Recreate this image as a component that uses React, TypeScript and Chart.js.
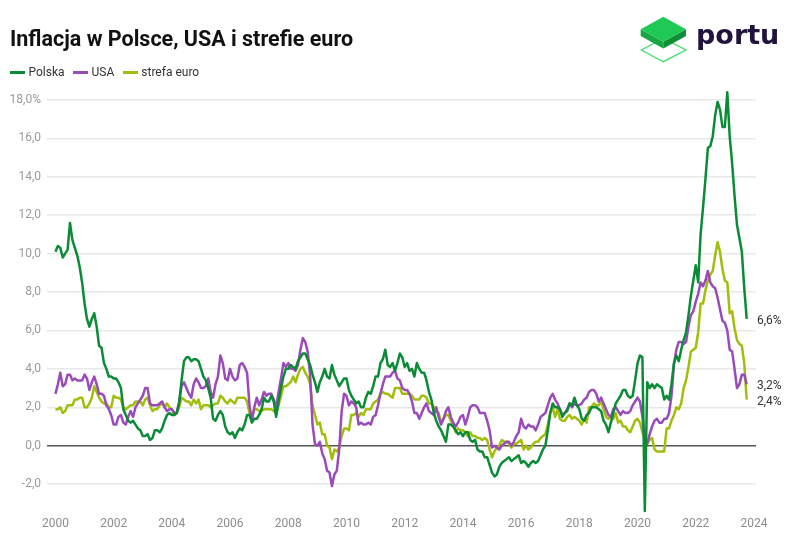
import React, { useEffect, useRef } from "react";
import { Chart, registerables } from "chart.js";

Chart.register(...registerables);

// Monthly y/y CPI, January 2000 - October 2023
const startYear = 2000;

const polska = [
  10.1, 10.4, 10.3, 9.8, 10.0, 10.2, 11.6, 10.7, 10.3, 9.9, 9.3, 8.5,
  7.4, 6.6, 6.2, 6.6, 6.9, 6.2, 5.2, 5.1, 4.3, 4.0, 3.6, 3.6,
  3.5, 3.5, 3.3, 3.0, 1.9, 1.6, 1.3, 1.2, 1.3, 1.1, 0.9, 0.8,
  0.5, 0.5, 0.6, 0.3, 0.4, 0.8, 0.8, 0.7, 0.9, 1.3, 1.6, 1.7,
  1.6, 1.6, 1.7, 2.2, 3.4, 4.4, 4.6, 4.6, 4.4, 4.5, 4.5, 4.4,
  4.0, 3.6, 3.4, 3.0, 2.5, 1.4, 1.3, 1.6, 1.8, 1.6, 1.0, 0.7,
  0.6, 0.7, 0.4, 0.7, 0.9, 0.8, 1.1, 1.6, 1.6, 1.2, 1.4, 1.4,
  1.6, 1.9, 2.5, 2.3, 2.3, 2.6, 2.3, 1.5, 2.3, 3.0, 3.6, 4.0,
  4.0, 4.2, 4.1, 4.0, 4.4, 4.6, 4.8, 4.8, 4.5, 4.2, 3.7, 3.3,
  2.8, 3.3, 3.6, 4.0, 3.6, 3.5, 4.2, 3.7, 3.4, 3.1, 3.3, 3.5,
  3.5, 2.9, 2.6, 2.4, 2.2, 2.3, 2.0, 2.0, 2.5, 2.8, 2.7, 3.1,
  3.6, 3.6, 4.3, 4.5, 5.0, 4.2, 4.1, 4.3, 3.9, 4.3, 4.8, 4.6,
  4.1, 4.3, 3.9, 4.0, 3.6, 4.3, 4.0, 3.8, 3.8, 3.4, 2.8, 2.4,
  1.7, 1.3, 1.0, 0.8, 0.5, 0.2, 1.1, 1.1, 1.0, 0.8, 0.6, 0.7,
  0.5, 0.7, 0.7, 0.3, 0.2, 0.3, -0.2, -0.3, -0.3, -0.6, -0.6, -1.0,
  -1.4, -1.6, -1.5, -1.1, -0.9, -0.8, -0.7, -0.6, -0.8, -0.7, -0.6, -0.5,
  -0.9, -0.8, -0.9, -1.1, -0.9, -0.8, -0.9, -0.8, -0.5, -0.2, 0.0, 0.8,
  1.7, 2.2, 2.0, 2.0, 1.9, 1.5, 1.7, 1.8, 2.2, 2.1, 2.5, 2.1,
  1.9, 1.4, 1.3, 1.6, 1.7, 2.0, 2.0, 2.0, 1.9, 1.8, 1.3, 1.1,
  0.7, 1.2, 1.7, 2.2, 2.4, 2.6, 2.9, 2.9, 2.6, 2.5, 2.6, 3.4,
  4.3, 4.7, 4.6, -3.4, 3.3, 3.0, 3.2, 3.0, 3.2, 3.1, 3.0, 2.4,
  2.6, 2.4, 3.2, 4.3, 4.7, 4.4, 5.0, 5.5, 5.9, 6.8, 7.8, 8.6,
  9.4, 8.5, 11.0, 12.4, 13.9, 15.5, 15.6, 16.1, 17.2, 17.9, 17.5, 16.6,
  16.6, 18.4, 16.1, 14.7, 13.0, 11.5, 10.8, 10.1, 8.2, 6.6,
];

const usa = [
  2.7, 3.2, 3.8, 3.1, 3.2, 3.7, 3.7, 3.4, 3.5, 3.4, 3.4, 3.4,
  3.7, 3.5, 2.9, 3.3, 3.6, 3.2, 2.7, 2.7, 2.6, 2.1, 1.9, 1.6,
  1.1, 1.1, 1.5, 1.6, 1.2, 1.1, 1.5, 1.8, 1.5, 2.0, 2.2, 2.4,
  2.6, 3.0, 3.0, 2.2, 2.1, 2.1, 2.1, 2.2, 2.3, 2.0, 1.8, 1.9,
  1.9, 1.7, 1.7, 2.3, 3.1, 3.3, 3.0, 2.7, 2.5, 3.2, 3.5, 3.3,
  3.0, 3.0, 3.1, 3.5, 2.8, 2.5, 3.2, 3.6, 4.7, 4.3, 3.5, 3.4,
  4.0, 3.6, 3.4, 3.5, 4.2, 4.3, 4.1, 3.8, 2.1, 1.3, 2.0, 2.5,
  2.1, 2.4, 2.8, 2.6, 2.7, 2.7, 2.4, 2.0, 2.8, 3.5, 4.3, 4.1,
  4.3, 4.0, 4.0, 3.9, 4.2, 5.0, 5.6, 5.4, 4.9, 3.7, 1.1, 0.1,
  0.0, 0.2, -0.4, -0.7, -1.3, -1.4, -2.1, -1.5, -1.3, -0.2, 1.8, 2.7,
  2.6, 2.1, 2.3, 2.2, 2.0, 1.1, 1.2, 1.1, 1.1, 1.2, 1.1, 1.5,
  1.6, 2.1, 2.7, 3.2, 3.6, 3.6, 3.6, 3.8, 3.9, 3.5, 3.4, 3.0,
  2.9, 2.9, 2.7, 2.3, 1.7, 1.7, 1.4, 1.7, 2.0, 2.2, 1.8, 1.7,
  1.6, 2.0, 1.5, 1.1, 1.4, 1.8, 2.0, 1.5, 1.2, 1.0, 1.2, 1.5,
  1.6, 1.1, 1.5, 2.0, 2.1, 2.1, 2.0, 1.7, 1.7, 1.7, 1.3, 0.8,
  -0.1, 0.0, -0.1, -0.2, 0.0, 0.1, 0.2, 0.2, 0.0, 0.2, 0.5, 0.7,
  1.4, 1.0, 0.9, 1.1, 1.0, 1.0, 0.8, 1.1, 1.5, 1.6, 1.7, 2.1,
  2.5, 2.7, 2.4, 2.2, 1.9, 1.6, 1.7, 1.9, 2.2, 2.0, 2.2, 2.1,
  2.1, 2.2, 2.4, 2.5, 2.8, 2.9, 2.9, 2.7, 2.3, 2.5, 2.2, 1.9,
  1.6, 1.5, 1.9, 2.0, 1.8, 1.6, 1.8, 1.7, 1.7, 1.8, 2.1, 2.3,
  2.5, 2.3, 1.5, 0.3, 0.1, 0.6, 1.0, 1.3, 1.4, 1.2, 1.2, 1.4,
  1.4, 1.7, 2.6, 4.2, 5.0, 5.4, 5.4, 5.3, 5.4, 6.2, 6.8, 7.0,
  7.5, 7.9, 8.5, 8.3, 8.6, 9.1, 8.5, 8.3, 8.2, 7.7, 7.1, 6.5,
  6.4, 6.0, 5.0, 4.9, 4.0, 3.0, 3.2, 3.7, 3.7, 3.2,
];

const strefaEuro = [
  1.9, 1.9, 2.0, 1.7, 1.8, 2.1, 2.1, 2.1, 2.4, 2.4, 2.5, 2.5,
  2.0, 2.0, 2.2, 2.5, 3.1, 2.8, 2.5, 2.3, 2.2, 2.2, 2.0, 2.0,
  2.6, 2.5, 2.5, 2.4, 2.0, 1.9, 2.0, 2.1, 2.1, 2.3, 2.3, 2.3,
  2.1, 2.4, 2.5, 2.1, 1.8, 1.9, 1.9, 2.1, 2.2, 2.0, 2.2, 2.0,
  1.9, 1.6, 1.7, 2.0, 2.5, 2.4, 2.3, 2.3, 2.1, 2.4, 2.2, 2.4,
  1.9, 2.1, 2.1, 2.1, 2.0, 2.1, 2.2, 2.2, 2.6, 2.5, 2.3, 2.2,
  2.4, 2.3, 2.2, 2.5, 2.5, 2.5, 2.5, 2.3, 1.7, 1.6, 1.9, 1.9,
  1.8, 1.8, 1.9, 1.9, 1.9, 1.9, 1.8, 1.7, 2.1, 2.6, 3.1, 3.1,
  3.2, 3.3, 3.6, 3.3, 3.7, 4.0, 4.1, 3.8, 3.6, 3.2, 2.1, 1.6,
  1.1, 1.2, 0.6, 0.6, 0.0, -0.1, -0.7, -0.2, -0.3, -0.1, 0.5, 0.9,
  0.9, 0.8, 1.6, 1.6, 1.7, 1.5, 1.7, 1.6, 1.9, 1.9, 1.9, 2.2,
  2.3, 2.4, 2.7, 2.8, 2.7, 2.7, 2.6, 2.5, 3.0, 3.0, 3.0, 2.7,
  2.7, 2.7, 2.7, 2.6, 2.4, 2.4, 2.4, 2.6, 2.6, 2.5, 2.2, 2.2,
  2.0, 1.8, 1.7, 1.2, 1.4, 1.6, 1.6, 1.3, 1.1, 0.7, 0.9, 0.8,
  0.8, 0.7, 0.5, 0.7, 0.5, 0.5, 0.4, 0.4, 0.3, 0.4, 0.3, -0.2,
  -0.6, -0.3, -0.1, 0.0, 0.3, 0.2, 0.2, 0.1, -0.1, 0.1, 0.1, 0.2,
  0.3, -0.2, 0.0, -0.2, -0.1, 0.1, 0.2, 0.2, 0.4, 0.5, 0.6, 1.1,
  1.7, 2.0, 1.5, 1.9, 1.4, 1.3, 1.3, 1.5, 1.6, 1.4, 1.5, 1.4,
  1.3, 1.1, 1.4, 1.2, 2.0, 2.0, 2.2, 2.1, 2.1, 2.3, 1.9, 1.5,
  1.4, 1.5, 1.4, 1.7, 1.2, 1.3, 1.0, 1.0, 0.8, 0.7, 1.0, 1.3,
  1.4, 1.2, 0.7, 0.3, 0.1, 0.3, 0.4, -0.2, -0.3, -0.3, -0.3, -0.3,
  0.9, 0.9, 1.3, 1.6, 2.0, 1.9, 2.2, 3.0, 3.4, 4.1, 4.9, 5.0,
  5.1, 5.9, 7.4, 7.4, 8.1, 8.6, 8.9, 9.1, 9.9, 10.6, 10.1, 9.2,
  8.6, 8.5, 6.9, 7.0, 6.1, 5.5, 5.3, 5.2, 4.3, 2.4,
];

const seriesNames = ["Polska", "USA", "strefa euro"];
const seriesColors = ["#0b8b36", "#9a4bb9", "#a3bd0c"];
const seriesValues = [polska, usa, strefaEuro];

const yearTicks = [2000, 2002, 2004, 2006, 2008, 2010, 2012, 2014, 2016, 2018, 2020, 2022, 2024];
const valueTicks = [-2, 0, 2, 4, 6, 8, 10, 12, 14, 16, 18];

const title = "Inflacja w Polsce, USA i strefie euro";
const FONT = "Roboto, 'Noto Sans', sans-serif";

const fmt = (v: number) => v.toFixed(1).replace(".", ",");

const endLabels = {
  id: "endLabels",
  afterDatasetsDraw(chart: any) {
    const ctx = chart.ctx;
    const items = chart.data.datasets.map((ds: any, i: number) => {
      const meta = chart.getDatasetMeta(i);
      const el = meta.data[meta.data.length - 1];
      const v = ds.data[ds.data.length - 1].y;
      return { y: el.y, text: fmt(v) + "%" };
    });
    items.sort((a: any, b: any) => a.y - b.y);
    for (let i = 1; i < items.length; i++) {
      if (items[i].y - items[i - 1].y < 16) items[i].y = items[i - 1].y + 16;
    }
    ctx.save();
    ctx.font = `12px ${FONT}`;
    ctx.fillStyle = "#333333";
    ctx.textAlign = "left";
    ctx.textBaseline = "middle";
    items.forEach((it: any) => ctx.fillText(it.text, chart.chartArea.right + 1, it.y + 2));
    ctx.restore();
  },
};

function Logo() {
  return (
    <svg width={800} height={80} style={{ position: "absolute", left: 0, top: 0 }}>
      <polygon points="641.3,50 663.3,38.5 686,50 663.3,61.7" fill="none" stroke="#3fdc6c" strokeWidth={1.3} />
      <polygon points="640.7,29.3 663.3,41.7 663.3,48.5 640.7,36" fill="#17a844" />
      <polygon points="663.3,41.7 686,29.3 686,36 663.3,48.5" fill="#0e8d37" />
      <polygon points="663.3,16.7 686,29.3 663.3,41.7 640.7,29.3" fill="#1fc956" />
      <text x={696} y={43.5} fontFamily="'DejaVu Sans', sans-serif" fontWeight="bold" fontSize={27} fill="#22133d">
        portu
      </text>
    </svg>
  );
}

export default function App() {
  const ref = useRef<HTMLCanvasElement | null>(null);

  useEffect(() => {
    document.body.style.margin = "0";
    const canvas = ref.current;
    if (!canvas) return;
    const chart = new Chart(canvas, {
      type: "line",
      data: {
        datasets: seriesValues.map((arr, s) => ({
          label: seriesNames[s],
          data: arr.map((v, i) => ({ x: startYear + i / 12, y: v })),
          borderColor: seriesColors[s],
          backgroundColor: seriesColors[s],
          borderWidth: 2.5,
          pointRadius: 0,
          tension: 0,
          borderJoinStyle: "round" as const,
        })),
      },
      options: {
        animation: false,
        responsive: false,
        devicePixelRatio: 1,
        layout: { padding: { top: 90.4, right: 44, left: 0, bottom: 0 } },
        plugins: { legend: { display: false }, tooltip: { enabled: false } },
        scales: {
          x: {
            type: "linear",
            min: 1999.71,
            max: 2024.07,
            afterBuildTicks: (scale: any) => {
              scale.ticks = yearTicks.map((v) => ({ value: v }));
            },
            afterFit: (scale: any) => {
              scale.height = 37.1;
            },
            grid: { display: false, drawTicks: false },
            border: { display: false },
            ticks: {
              autoSkip: false,
              maxRotation: 0,
              padding: 4,
              color: "#8c8c8c",
              font: { family: FONT, size: 12 },
              callback: (v: any) => String(v),
            },
          },
          y: {
            type: "linear",
            min: -3.5,
            max: 18.5,
            afterBuildTicks: (scale: any) => {
              scale.ticks = valueTicks.map((v) => ({ value: v }));
            },
            afterFit: (scale: any) => {
              scale.width = 47;
            },
            grid: {
              drawTicks: false,
              color: (c: any) => (c.tick && c.tick.value === 0 ? "#555555" : "#e8e8e8"),
              lineWidth: 1.5,
            },
            border: { display: false },
            ticks: {
              padding: 6,
              color: "#9a9a9a",
              font: { family: FONT, size: 12 },
              callback: (v: any) => (v === 18 ? fmt(v) + "%" : fmt(v)),
            },
          },
        },
      },
      plugins: [endLabels],
    });
    return () => chart.destroy();
  }, []);

  return (
    <div style={{ position: "fixed", left: 0, top: 0, width: 800, height: 550, background: "#fff", overflow: "hidden" }}>
      <canvas ref={ref} width={800} height={550} style={{ position: "absolute", left: 0, top: 0, width: 800, height: 550 }} />
      <div
        style={{
          position: "absolute",
          left: 10,
          top: 28,
          fontFamily: FONT,
          fontWeight: 700,
          fontSize: 21.5,
          lineHeight: "21.5px",
          color: "#111",
          whiteSpace: "nowrap",
        }}
      >
        {title}
      </div>
      <div
        style={{
          position: "absolute",
          left: 10,
          top: 64,
          height: 16,
          display: "flex",
          alignItems: "center",
          fontFamily: FONT,
          fontSize: 12,
          color: "#333",
          whiteSpace: "nowrap",
        }}
      >
        {seriesNames.map((n, i) => (
          <div key={n} style={{ display: "flex", alignItems: "center", marginRight: 8.5 }}>
            <span style={{ display: "inline-block", width: 15, height: 3, background: seriesColors[i], marginRight: 3.5 }} />
            <span>{n}</span>
          </div>
        ))}
      </div>
      <Logo />
    </div>
  );
}
